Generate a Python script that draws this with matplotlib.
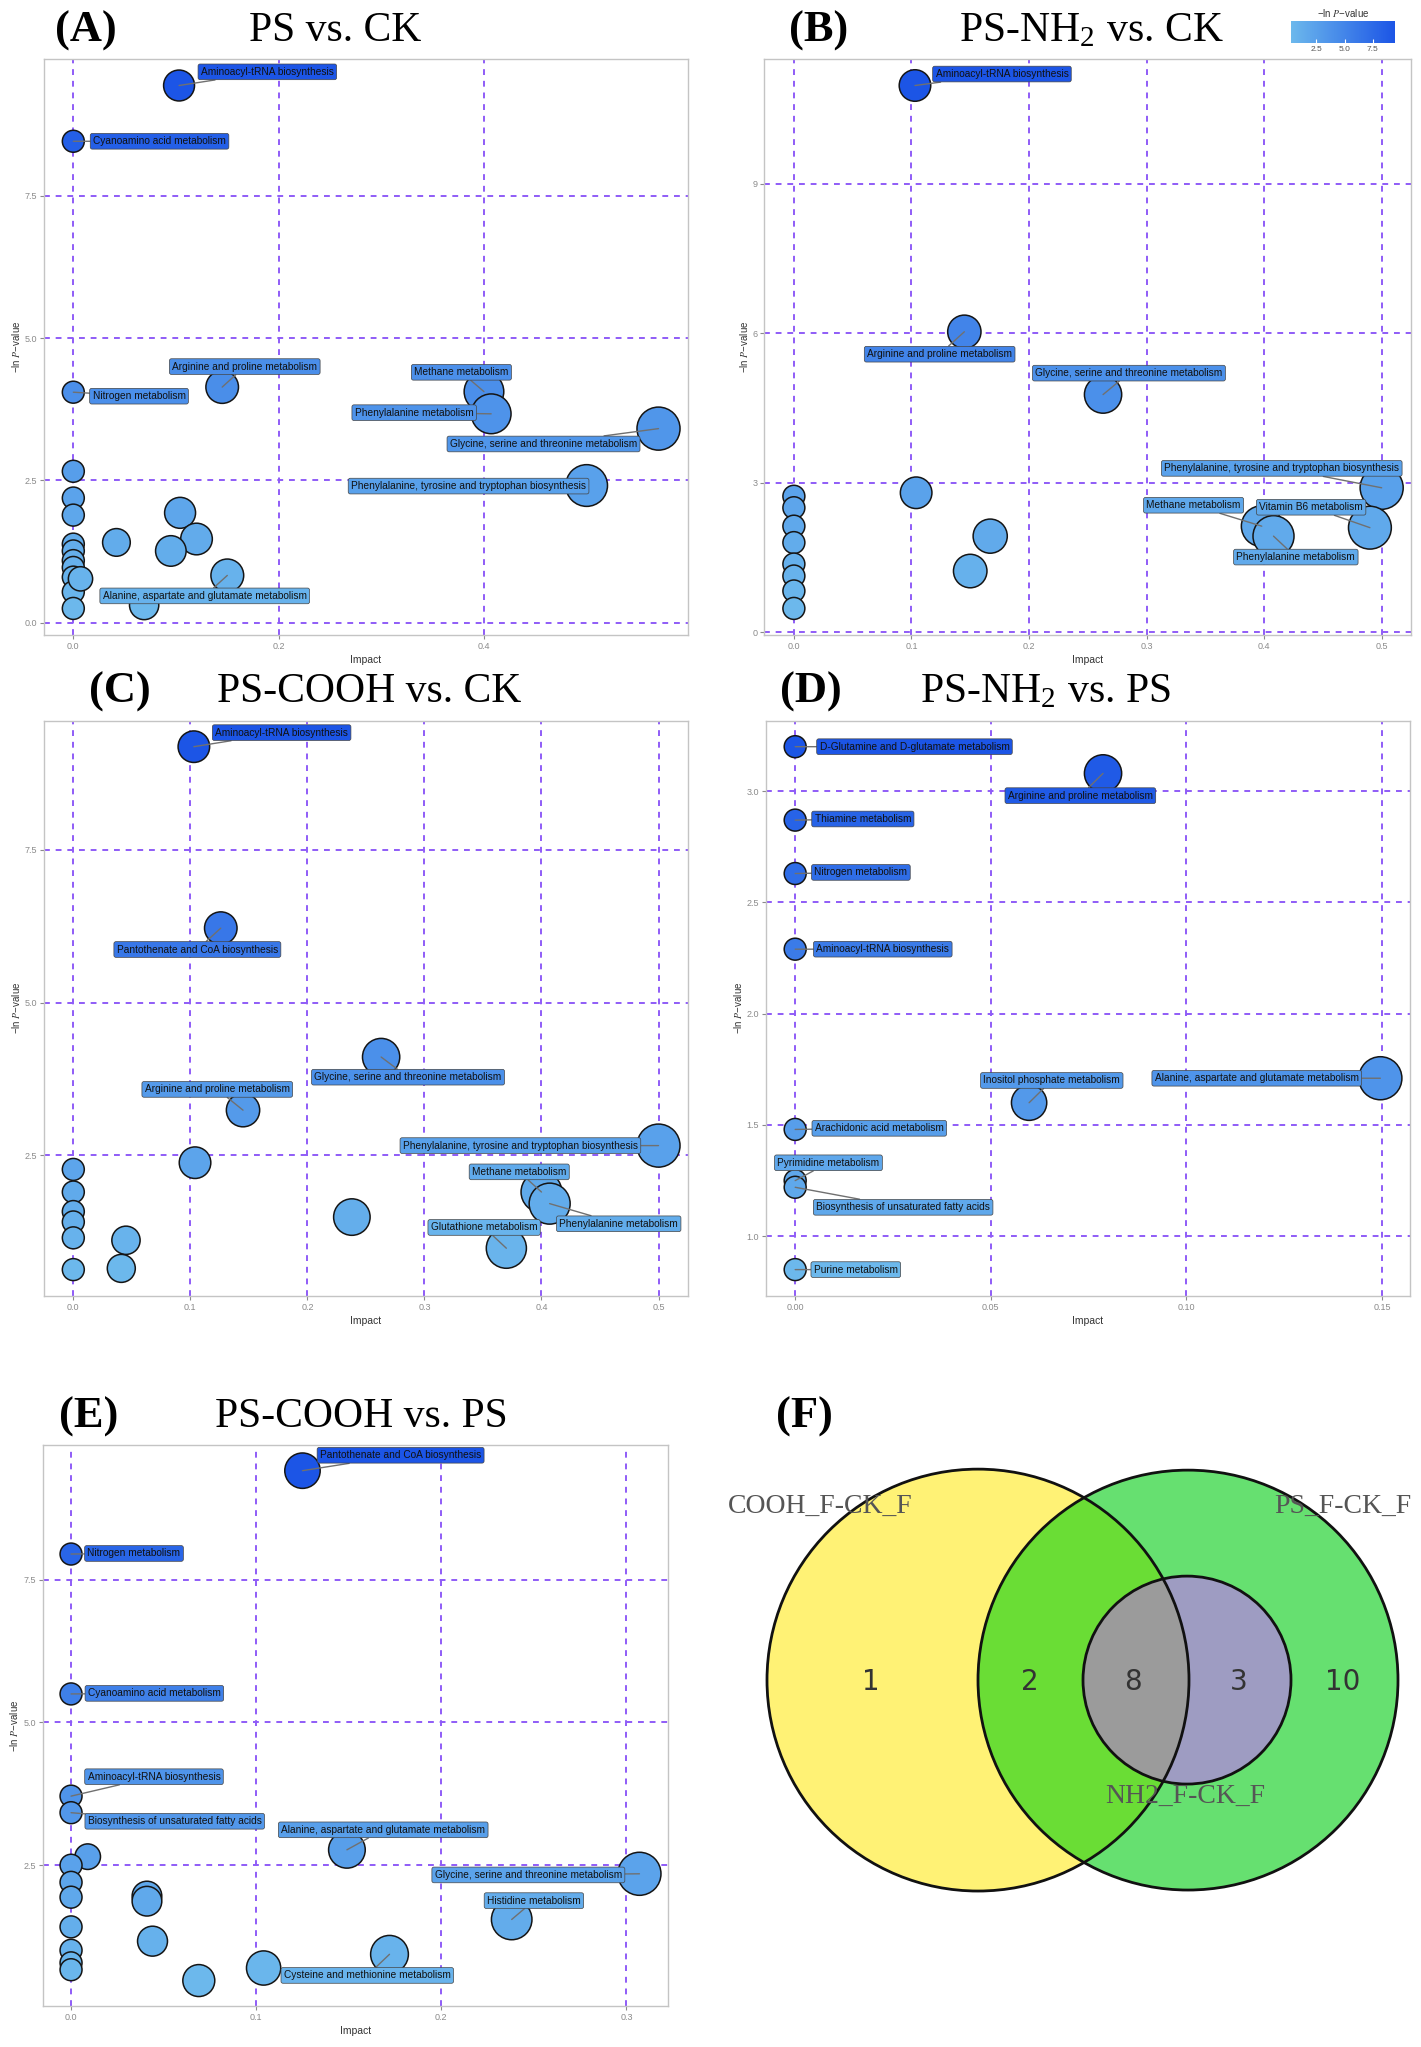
import numpy as np
import matplotlib.pyplot as plt
from matplotlib.colors import LinearSegmentedColormap, Normalize
from matplotlib.cm import ScalarMappable
from matplotlib.patches import Circle
from matplotlib.ticker import FormatStrFormatter

plt.rcParams['font.family'] = ['Liberation Sans', 'DejaVu Sans']
plt.rcParams['mathtext.fontset'] = 'stix'

# ---------------- data ----------------
# (A) PS vs. CK
a_names = ['Aminoacyl-tRNA biosynthesis', 'Cyanoamino acid metabolism', 'Arginine and proline metabolism',
           'Nitrogen metabolism', 'Methane metabolism', 'Phenylalanine metabolism',
           'Glycine, serine and threonine metabolism', 'Phenylalanine, tyrosine and tryptophan biosynthesis',
           'Alanine, aspartate and glutamate metabolism',
           '', '', '', '', '', '', '', '', '', '', '', '', '', '', '', '']
a_impact = [0.103, 0.0, 0.145, 0.0, 0.40, 0.407, 0.57, 0.50, 0.15,
            0.0, 0.0, 0.0, 0.0, 0.0, 0.0, 0.0, 0.0, 0.0, 0.0, 0.007,
            0.104, 0.042, 0.12, 0.095, 0.069]
a_lnp = [9.44, 8.46, 4.14, 4.05, 4.06, 3.67, 3.41, 2.41, 0.83,
         2.66, 2.19, 1.89, 1.38, 1.26, 1.09, 0.97, 0.80, 0.54, 0.25, 0.77,
         1.93, 1.41, 1.47, 1.26, 0.31]

# (B) PS-NH2 vs. CK
b_names = ['Aminoacyl-tRNA biosynthesis', 'Arginine and proline metabolism',
           'Glycine, serine and threonine metabolism', 'Phenylalanine, tyrosine and tryptophan biosynthesis',
           'Methane metabolism', 'Vitamin B6 metabolism', 'Phenylalanine metabolism',
           '', '', '', '', '', '', '', '', '', '', '']
b_impact = [0.103, 0.145, 0.263, 0.50, 0.398, 0.49, 0.408,
            0.104, 0.167, 0.15, 0.0, 0.0, 0.0, 0.0, 0.0, 0.0, 0.0, 0.0]
b_lnp = [10.97, 6.03, 4.77, 2.90, 2.13, 2.10, 1.93,
         2.80, 1.93, 1.23, 2.73, 2.50, 2.13, 1.80, 1.37, 1.13, 0.83, 0.48]

# (C) PS-COOH vs. CK
c_names = ['Aminoacyl-tRNA biosynthesis', 'Pantothenate and CoA biosynthesis',
           'Glycine, serine and threonine metabolism', 'Arginine and proline metabolism',
           'Phenylalanine, tyrosine and tryptophan biosynthesis', 'Methane metabolism',
           'Phenylalanine metabolism', 'Glutathione metabolism',
           '', '', '', '', '', '', '', '', '', '']
c_impact = [0.103, 0.126, 0.263, 0.145, 0.50, 0.40, 0.407, 0.37,
            0.104, 0.238, 0.045, 0.041, 0.0, 0.0, 0.0, 0.0, 0.0, 0.0]
c_lnp = [9.19, 6.22, 4.11, 3.24, 2.66, 1.90, 1.71, 0.98,
         2.38, 1.49, 1.11, 0.65, 2.27, 1.90, 1.58, 1.41, 1.15, 0.63]

# (D) PS-NH2 vs. PS
d_names = ['D-Glutamine and D-glutamate metabolism', 'Arginine and proline metabolism', 'Thiamine metabolism',
           'Nitrogen metabolism', 'Aminoacyl-tRNA biosynthesis', 'Alanine, aspartate and glutamate metabolism',
           'Inositol phosphate metabolism', 'Arachidonic acid metabolism', 'Pyrimidine metabolism',
           'Biosynthesis of unsaturated fatty acids', 'Purine metabolism']
d_impact = [0.0, 0.0787, 0.0, 0.0, 0.0, 0.1496, 0.0598, 0.0, 0.0, 0.0, 0.0]
d_lnp = [3.20, 3.08, 2.87, 2.63, 2.29, 1.71, 1.60, 1.48, 1.25, 1.22, 0.85]

# (E) PS-COOH vs. PS
e_names = ['Pantothenate and CoA biosynthesis', 'Nitrogen metabolism', 'Cyanoamino acid metabolism',
           'Aminoacyl-tRNA biosynthesis', 'Biosynthesis of unsaturated fatty acids',
           'Alanine, aspartate and glutamate metabolism', 'Glycine, serine and threonine metabolism',
           'Histidine metabolism', 'Cysteine and methionine metabolism',
           '', '', '', '', '', '', '', '', '', '', '', '', '']
e_impact = [0.125, 0.0, 0.0, 0.0, 0.0, 0.149, 0.307, 0.238, 0.172,
            0.009, 0.104, 0.069, 0.041, 0.041, 0.044, 0.0, 0.0, 0.0, 0.0, 0.0, 0.0, 0.0]
e_lnp = [9.41, 7.95, 5.50, 3.71, 3.42, 2.77, 2.35, 1.55, 0.94,
         2.65, 0.70, 0.48, 1.96, 1.87, 1.17, 2.50, 2.20, 1.94, 1.42, 1.01, 0.79, 0.67]

# (F) venn
venn_sets = ['COOH_F-CK_F', 'PS_F-CK_F', 'NH2_F-CK_F']
venn_counts = [1, 2, 8, 3, 10]

# label box centres (data coords)
a_lab = {'Aminoacyl-tRNA biosynthesis': (0.189, 9.68), 'Cyanoamino acid metabolism': (0.084, 8.46),
         'Arginine and proline metabolism': (0.167, 4.5), 'Nitrogen metabolism': (0.064, 3.98),
         'Methane metabolism': (0.378, 4.40), 'Phenylalanine metabolism': (0.332, 3.69),
         'Glycine, serine and threonine metabolism': (0.458, 3.14),
         'Phenylalanine, tyrosine and tryptophan biosynthesis': (0.385, 2.40),
         'Alanine, aspartate and glutamate metabolism': (0.128, 0.47)}
b_lab = {'Aminoacyl-tRNA biosynthesis': (0.177, 11.2), 'Arginine and proline metabolism': (0.124, 5.58),
         'Glycine, serine and threonine metabolism': (0.285, 5.2),
         'Phenylalanine, tyrosine and tryptophan biosynthesis': (0.415, 3.29),
         'Methane metabolism': (0.34, 2.55), 'Vitamin B6 metabolism': (0.44, 2.51),
         'Phenylalanine metabolism': (0.427, 1.51)}
c_lab = {'Aminoacyl-tRNA biosynthesis': (0.178, 9.42), 'Pantothenate and CoA biosynthesis': (0.106, 5.87),
         'Glycine, serine and threonine metabolism': (0.286, 3.78), 'Arginine and proline metabolism': (0.123, 3.58),
         'Phenylalanine, tyrosine and tryptophan biosynthesis': (0.382, 2.66),
         'Methane metabolism': (0.381, 2.23), 'Phenylalanine metabolism': (0.466, 1.38),
         'Glutathione metabolism': (0.351, 1.32)}
d_lab = {'D-Glutamine and D-glutamate metabolism': (0.0305, 3.20), 'Arginine and proline metabolism': (0.0729, 2.98),
         'Thiamine metabolism': (0.0173, 2.875), 'Nitrogen metabolism': (0.0168, 2.635),
         'Aminoacyl-tRNA biosynthesis': (0.0224, 2.29), 'Inositol phosphate metabolism': (0.0656, 1.70),
         'Alanine, aspartate and glutamate metabolism': (0.118, 1.71), 'Arachidonic acid metabolism': (0.0215, 1.485),
         'Pyrimidine metabolism': (0.0085, 1.33), 'Biosynthesis of unsaturated fatty acids': (0.0276, 1.13),
         'Purine metabolism': (0.0155, 0.85)}
e_lab = {'Pantothenate and CoA biosynthesis': (0.178, 9.68), 'Nitrogen metabolism': (0.034, 7.96),
         'Cyanoamino acid metabolism': (0.045, 5.51), 'Aminoacyl-tRNA biosynthesis': (0.0448, 4.05),
         'Biosynthesis of unsaturated fatty acids': (0.056, 3.27),
         'Alanine, aspartate and glutamate metabolism': (0.1686, 3.12),
         'Glycine, serine and threonine metabolism': (0.247, 2.33), 'Histidine metabolism': (0.25, 1.88),
         'Cysteine and methionine metabolism': (0.160, 0.57)}

cmap = LinearSegmentedColormap.from_list('lnp', ['#6CB8EC', '#1C55E6'])
grid_col = '#8F5CF7'


def bubble_panel(ax, names, impact, lnp, labpos, xticks, yticks, xfmt, yfmt):
    impact = np.array(impact)
    lnp = np.array(lnp)
    norm = Normalize(lnp.min(), lnp.max())
    cols = cmap(norm(lnp))
    diam = 15.8 + 15.2 * np.sqrt(impact / impact.max())
    ax.scatter(impact, lnp, s=diam ** 2, c=cols, edgecolors='#151515', linewidths=1.1, zorder=3)
    for nm, x, y, c in zip(names, impact, lnp, cols):
        if nm == '':
            continue
        tx, ty = labpos[nm]
        ax.annotate(nm, xy=(x, y), xytext=(tx, ty), ha='center', va='center', fontsize=7.3,
                    color='#111111', zorder=5,
                    bbox=dict(boxstyle='round,pad=0.28,rounding_size=0.2', fc=c, ec='#444444', lw=0.5),
                    arrowprops=dict(arrowstyle='-', color='#707070', lw=1.0, shrinkA=0, shrinkB=0))
    xr = impact.max() - impact.min()
    yr = lnp.max() - lnp.min()
    ax.set_xlim(impact.min() - 0.05 * xr, impact.max() + 0.05 * xr)
    ax.set_ylim(lnp.min() - 0.05 * yr, lnp.max() + 0.05 * yr)
    ax.set_xticks(xticks)
    ax.set_yticks(yticks)
    ax.xaxis.set_major_formatter(FormatStrFormatter(xfmt))
    ax.yaxis.set_major_formatter(FormatStrFormatter(yfmt))
    ax.grid(True, color=grid_col, linestyle=(0, (3, 3)), lw=1.4)
    ax.set_axisbelow(True)
    for sp in ax.spines.values():
        sp.set_color('#c4c4c4')
        sp.set_linewidth(1.0)
    ax.tick_params(labelsize=6.5, colors='#8a8a8a', length=3, width=0.8, pad=2)
    ax.set_xlabel('Impact', fontsize=7.5, color='#333333', labelpad=3)
    ax.set_ylabel('\u2212ln $\\it{P}$\u2212value', fontsize=7, color='#333333', labelpad=2)
    return norm


fig = plt.figure(figsize=(14.21, 20.47), dpi=100)

ax_a = fig.add_axes([0.031, 0.690, 0.453, 0.281])
bubble_panel(ax_a, a_names, a_impact, a_lnp, a_lab, [0.0, 0.2, 0.4], [0.0, 2.5, 5.0, 7.5], '%.1f', '%.1f')
ax_b = fig.add_axes([0.538, 0.690, 0.455, 0.281])
bubble_panel(ax_b, b_names, b_impact, b_lnp, b_lab, np.arange(0, 0.51, 0.1), [0, 3, 6, 9], '%.1f', '%.0f')
ax_c = fig.add_axes([0.031, 0.367, 0.453, 0.281])
bubble_panel(ax_c, c_names, c_impact, c_lnp, c_lab, np.arange(0, 0.51, 0.1), [2.5, 5.0, 7.5], '%.1f', '%.1f')
ax_d = fig.add_axes([0.539, 0.367, 0.453, 0.281])
bubble_panel(ax_d, d_names, d_impact, d_lnp, d_lab, [0.0, 0.05, 0.10, 0.15], [1.0, 1.5, 2.0, 2.5, 3.0], '%.2f', '%.1f')
ax_e = fig.add_axes([0.030, 0.020, 0.440, 0.274])
bubble_panel(ax_e, e_names, e_impact, e_lnp, e_lab, [0.0, 0.1, 0.2, 0.3], [2.5, 5.0, 7.5], '%.1f', '%.1f')

# colour legend
cax = fig.add_axes([0.9085, 0.979, 0.073, 0.0105])
cb = fig.colorbar(ScalarMappable(Normalize(min(a_lnp), max(a_lnp)), cmap), cax=cax, orientation='horizontal')
cb.set_ticks([2.5, 5.0, 7.5])
cb.outline.set_visible(False)
cax.tick_params(labelsize=6, color='white', labelcolor='#555555', direction='in', length=3, pad=2)
cax.set_title('\u2212ln $\\it{P}$\u2212value', fontsize=7, color='#333333', pad=3)

# panel titles
serif = ['Liberation Serif', 'DejaVu Serif']
panels = [('(A)', 0.0385, 0.985, 'PS vs. CK', 0.236),
          ('(B)', 0.555, 0.985, 'PS-NH$_\\mathregular{2}$ vs. CK', 0.768),
          ('(C)', 0.0625, 0.662, 'PS-COOH vs. CK', 0.260),
          ('(D)', 0.549, 0.662, 'PS-NH$_\\mathregular{2}$ vs. PS', 0.736),
          ('(E)', 0.0413, 0.308, 'PS-COOH vs. PS', 0.2545)]
for tag, tx, ty, title, cx in panels:
    fig.text(tx, ty, tag, fontsize=32, fontweight='bold', family=serif, va='center', ha='left')
    fig.text(cx, ty, title, fontsize=30, family=serif, va='center', ha='center')
fig.text(0.546, 0.308, '(F)', fontsize=32, fontweight='bold', family=serif, va='center', ha='left')

# (F) venn diagram, axes in pixel units
ax_f = fig.add_axes([0.5, 0.0, 0.5, 0.316])
ax_f.set_xlim(710.5, 1421)
ax_f.set_ylim(2047, 1400)
ax_f.axis('off')
yel = Circle((978, 1680), 211, fc='#FFF275', ec='none')
grn = Circle((1188, 1680), 210, fc='#66E070', ec='none')
sml = Circle((1187, 1680), 104, fc='#9E9CC2', ec='none')
ax_f.add_patch(yel)
ax_f.add_patch(grn)
mix = Circle((1188, 1680), 210, fc='#6ADD35', ec='none')
ax_f.add_patch(mix)
mix.set_clip_path(Circle((978, 1680), 211, transform=ax_f.transData))
ax_f.add_patch(sml)
gry = Circle((1187, 1680), 104, fc='#9B9B9B', ec='none')
ax_f.add_patch(gry)
gry.set_clip_path(Circle((978, 1680), 211, transform=ax_f.transData))
for cc, rr in [((978, 1680), 211), ((1188, 1680), 210), ((1187, 1680), 104)]:
    ax_f.add_patch(Circle(cc, rr, fc='none', ec='#111111', lw=2.0))
for n, x in zip(venn_counts, [871, 1030, 1133, 1239, 1343]):
    ax_f.text(x, 1682, str(n), fontsize=20, color='#333333', ha='center', va='center', family='DejaVu Sans')
ax_f.text(728, 1506, venn_sets[0], fontsize=20, color='#555555', family=serif, ha='left', va='center')
ax_f.text(1411, 1506, venn_sets[1], fontsize=20, color='#555555', family=serif, ha='right', va='center')
ax_f.text(1185, 1796, venn_sets[2], fontsize=20, color='#555555', family=serif, ha='center', va='center')

fig.savefig('out.png', dpi=100)
